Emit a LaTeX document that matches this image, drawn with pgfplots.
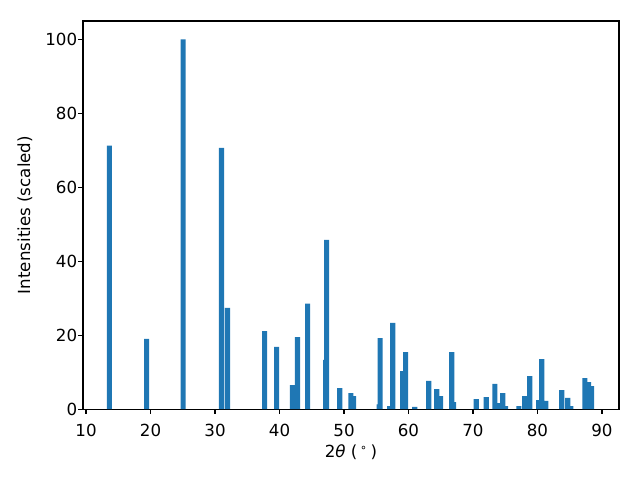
\documentclass[border=0pt]{standalone}
\usepackage{fontspec}
\setmainfont{DejaVu Sans}
\usepackage{pgfplots}
\pgfplotsset{compat=1.18}
\definecolor{mplblue}{HTML}{1F77B4}

\begin{document}
\begin{tikzpicture}
\begin{axis}[
  scale only axis, width=385.9pt, height=279.4pt,
  xmin=9.53, xmax=92.64, ymin=0, ymax=105,
  xtick={10,20,...,90}, ytick={0,20,...,100},
  tick align=outside, xtick pos=bottom, ytick pos=left,
  major tick length=3.5pt,
  every tick/.style={black, line width=0.8pt},
  axis line style={line width=0.8pt},
  /pgf/number format/assume math mode=true,
  ticklabel style={font=\fontsize{12}{14}\selectfont, inner sep=0pt},
  xticklabel style={anchor=north, yshift=-7pt},
  yticklabel style={anchor=east, xshift=-0.5pt},
  xlabel={2\textit{θ} (\,\textsuperscript{∘}\,)},
  ylabel={Intensities (scaled)},
  every axis x label/.style={at={(axis description cs:0.5,-0.1110)}, anchor=center, font=\fontsize{12}{14}\selectfont},
  every axis y label/.style={at={(axis description cs:-0.1083,0.5)}, anchor=center, rotate=90, font=\fontsize{12}{14}\selectfont},
  ybar, bar width=0.8,
]
\addplot[fill=mplblue, draw=none] coordinates {
(13.62,71.3) (19.39,19.0) (25.05,100) (31.00,70.7) (31.93,27.4)
(37.69,21.1) (39.55,16.8) (42.00,6.5) (42.78,19.5) (44.36,28.5)
(47.18,13.3) (47.31,45.8) (49.33,5.7) (51.06,4.3) (51.48,3.5)
(55.47,1.3) (55.60,19.2) (57.08,0.8) (57.55,23.3) (59.10,10.3)
(59.55,15.4) (60.96,0.6) (63.13,7.6) (64.39,5.4) (64.98,3.5)
(66.70,15.4) (66.98,1.9) (70.50,2.7) (72.05,3.2) (73.39,6.8)
(73.77,1.6) (74.61,4.3) (75.06,0.8) (77.12,0.8) (78.02,3.5)
(78.80,8.9) (80.20,2.4) (80.67,13.5) (81.27,2.2) (83.77,5.1)
(84.70,3.0) (85.15,0.8) (87.35,8.4) (87.93,7.3) (88.40,6.2)
};
\end{axis}
\pgfresetboundingbox
\path ([shift={(-59.76pt,-51.12pt)}]current axis.south west) rectangle ([shift={(15.12pt,15.12pt)}]current axis.north east);
\end{tikzpicture}
\end{document}
